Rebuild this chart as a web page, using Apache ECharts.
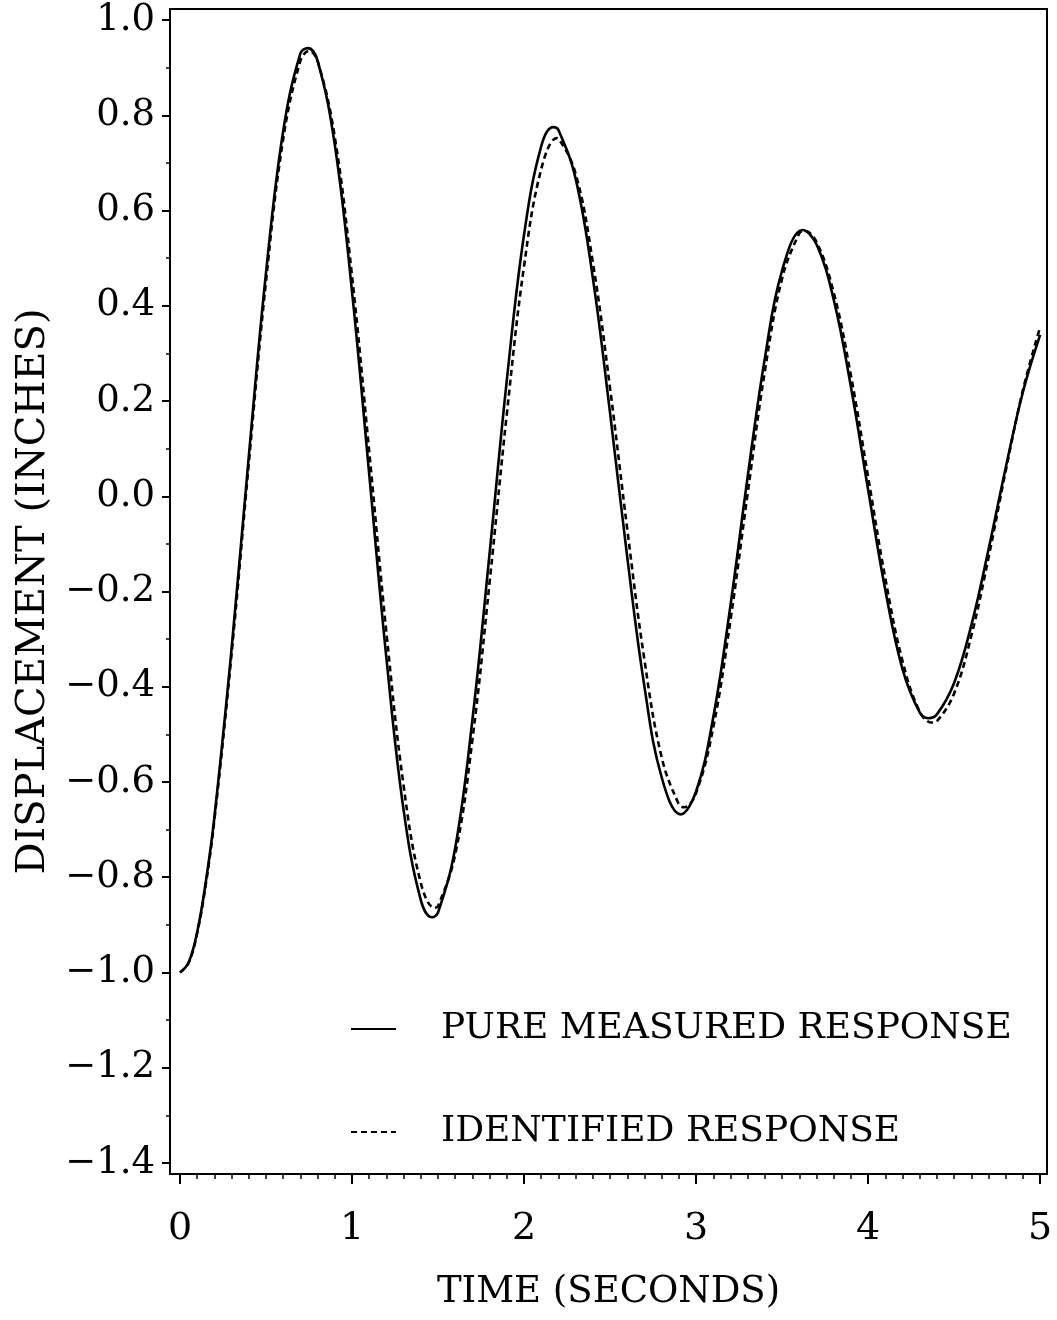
<!DOCTYPE html>
<html>
<head>
<meta charset="utf-8">
<script src="https://cdn.jsdelivr.net/npm/echarts@6/dist/echarts.min.js"></script>
<style>
html,body{margin:0;padding:0;background:#fff;}
#chart{width:1057px;height:1320px;}
</style>
</head>
<body>
<div id="chart"></div>
<script>
// Time (s) and displacement (in)
const measuredTime = [0,0.05,0.1,0.15,0.2,0.3,0.4,0.5,0.6,0.7,0.744,0.8,0.9,1.0,1.1,1.2,1.3,1.4,1.465,1.5,1.6,1.7,1.8,1.9,2.0,2.1,2.17,2.2,2.3,2.4,2.5,2.6,2.7,2.8,2.91,3.0,3.1,3.2,3.3,3.4,3.5,3.62,3.7,3.8,3.9,4.0,4.1,4.2,4.3,4.35,4.4,4.5,4.6,4.7,4.8,4.9,5.0];
const measuredDisp = [-1.0,-0.979,-0.915,-0.810,-0.674,-0.320,0.084,0.469,0.767,0.930,0.941,0.914,0.738,0.430,0.046,-0.340,-0.659,-0.848,-0.884,-0.874,-0.738,-0.469,-0.119,0.244,0.549,0.735,0.775,0.769,0.667,0.458,0.175,-0.128,-0.400,-0.590,-0.668,-0.620,-0.464,-0.229,0.041,0.290,0.474,0.559,0.529,0.413,0.230,0.014,-0.197,-0.363,-0.454,-0.466,-0.458,-0.392,-0.271,-0.112,0.060,0.219,0.339];

const identifiedTime = [0,0.05,0.1,0.15,0.2,0.3,0.4,0.5,0.6,0.7,0.75,0.8,0.9,1.0,1.1,1.2,1.3,1.4,1.48,1.5,1.6,1.7,1.8,1.9,2.0,2.1,2.19,2.2,2.3,2.4,2.5,2.6,2.7,2.8,2.9,2.93,3.0,3.1,3.2,3.3,3.4,3.5,3.6,3.63,3.7,3.8,3.9,4.0,4.1,4.2,4.3,4.37,4.4,4.5,4.6,4.7,4.8,4.9,5.0];
const identifiedDisp = [-1.0,-0.980,-0.917,-0.815,-0.680,-0.331,0.069,0.451,0.750,0.914,0.935,0.914,0.754,0.463,0.094,-0.286,-0.608,-0.812,-0.864,-0.861,-0.752,-0.511,-0.180,0.173,0.483,0.687,0.752,0.751,0.677,0.491,0.227,-0.069,-0.344,-0.548,-0.647,-0.653,-0.623,-0.485,-0.260,0.006,0.263,0.457,0.552,0.557,0.534,0.428,0.254,0.041,-0.172,-0.346,-0.452,-0.475,-0.472,-0.414,-0.293,-0.129,0.053,0.223,0.355];

const xTicks = [0,1,2,3,4,5];
const xMinorTicks = [0,0.1,0.2,0.3,0.4,0.5,0.6,0.7,0.8,0.9,1,1.1,1.2,1.3,1.4,1.5,1.6,1.7,1.8,1.9,2,2.1,2.2,2.3,2.4,2.5,2.6,2.7,2.8,2.9,3,3.1,3.2,3.3,3.4,3.5,3.6,3.7,3.8,3.9,4,4.1,4.2,4.3,4.4,4.5,4.6,4.7,4.8,4.9,5];
const yTicks = [-1.4,-1.2,-1.0,-0.8,-0.6,-0.4,-0.2,0.0,0.2,0.4,0.6,0.8,1.0];
const yMinorTicks = [-1.4,-1.3,-1.2,-1.1,-1.0,-0.9,-0.8,-0.7,-0.6,-0.5,-0.4,-0.3,-0.2,-0.1,0,0.1,0.2,0.3,0.4,0.5,0.6,0.7,0.8,0.9,1.0];

const seriesNames = ['PURE MEASURED RESPONSE','IDENTIFIED RESPONSE'];

const FONT = '"DejaVu Serif", "Liberation Serif", serif';
const pair = (t, v) => t.map((x, i) => [x, v[i]]);
const fmtY = v => (v < 0 ? '\u2212' : '') + Math.abs(v).toFixed(1);

const X_MIN = -0.058, X_MAX = 5.04, Y_MIN = -1.4231, Y_MAX = 1.0231;

const chart = echarts.init(document.getElementById('chart'), null, {renderer: 'canvas'});
chart.setOption({
  backgroundColor: '#fff',
  animation: false,
  grid: {left: 170, top: 9, width: 877, height: 1165, show: true, borderColor: '#000', borderWidth: 2, backgroundColor: 'transparent'},
  legend: {
    orient: 'vertical', left: 350, top: 1006, padding: 0,
    itemWidth: 45, itemHeight: 14, itemGap: 57,
    data: seriesNames,
    itemStyle: {opacity: 0},
    textStyle: {fontFamily: FONT, fontSize: 36, color: '#000', padding: [6,0,0,40], lineHeight: 40}
  },
  xAxis: [
    {type: 'value', min: X_MIN, max: X_MAX, position: 'bottom',
     axisLine: {show: true, onZero: false, lineStyle: {color: '#000', width: 2}},
     axisTick: {show: true, inside: false, customValues: xTicks, length: 10, lineStyle: {color: '#000', width: 2}},
     axisLabel: {show: true, customValues: xTicks, margin: 36, fontFamily: FONT, fontSize: 38, color: '#000', formatter: v => String(v)},
     splitLine: {show: false},
     name: 'TIME (SECONDS)', nameLocation: 'middle', nameGap: 100,
     nameTextStyle: {fontFamily: FONT, fontSize: 37, color: '#000'}},
    {type: 'value', min: X_MIN, max: X_MAX, position: 'bottom',
     axisLine: {show: false, onZero: false},
     axisTick: {show: true, inside: false, customValues: xMinorTicks, length: 5, lineStyle: {color: '#000', width: 1.5}},
     axisLabel: {show: false}, splitLine: {show: false}}
  ],
  yAxis: [
    {type: 'value', min: Y_MIN, max: Y_MAX, position: 'left',
     axisLine: {show: true, onZero: false, lineStyle: {color: '#000', width: 2}},
     axisTick: {show: true, inside: false, customValues: yTicks, length: 8, lineStyle: {color: '#000', width: 2}},
     axisLabel: {show: true, customValues: yTicks, margin: 15, fontFamily: FONT, fontSize: 37, color: '#000', formatter: fmtY},
     splitLine: {show: false},
     name: 'DISPLACEMENT (INCHES)', nameLocation: 'middle', nameGap: 116,
     nameTextStyle: {fontFamily: FONT, fontSize: 40, color: '#000'}},
    {type: 'value', min: Y_MIN, max: Y_MAX, position: 'left',
     axisLine: {show: false, onZero: false},
     axisTick: {show: true, inside: false, customValues: yMinorTicks, length: 4, lineStyle: {color: '#000', width: 1.5}},
     axisLabel: {show: false}, splitLine: {show: false}}
  ],
  series: [
    {name: seriesNames[0], type: 'line', data: pair(measuredTime, measuredDisp),
     smooth: 0.4, symbol: 'none', showSymbol: false, color: '#000',
     lineStyle: {color: '#000', width: 2.6, type: 'solid'}},
    {name: seriesNames[1], type: 'line', data: pair(identifiedTime, identifiedDisp),
     smooth: 0.4, symbol: 'none', showSymbol: false, color: '#000',
     lineStyle: {color: '#000', width: 2.6, type: [6, 4]}}
  ]
});
</script>
</body>
</html>
